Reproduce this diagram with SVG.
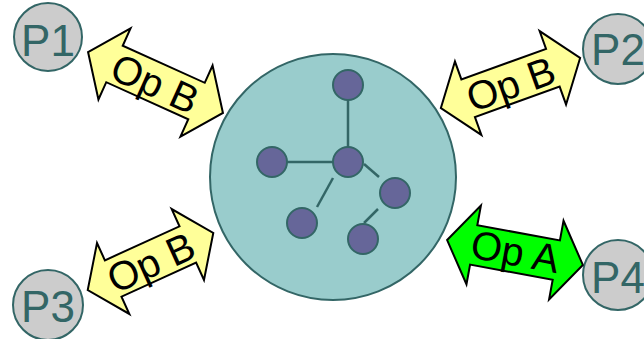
<svg xmlns="http://www.w3.org/2000/svg" width="644" height="339" viewBox="0 0 644 339">
  <style>
    .peer { fill: #cccccc; stroke: #336666; stroke-width: 2; }
    .peer-label { font-family: "Liberation Sans", Arial, sans-serif; font-size: 44px; fill: #336666; text-anchor: middle; }
    .op { stroke: #000000; stroke-width: 2; stroke-linejoin: miter; }
    .op-b { fill: #ffff99; }
    .op-a { fill: #00ff00; }
    .op-label { font-family: "Liberation Sans", Arial, sans-serif; font-size: 40px; fill: #000000; text-anchor: middle; }
    .cloud { fill: #99cccc; stroke: #336666; stroke-width: 2; }
    .member { fill: #666699; stroke: #336666; stroke-width: 2; }
    .link { stroke: #336666; stroke-width: 2.5; fill: none; }
  </style>

  <!-- central group with its members -->
  <g id="group">
    <circle class="cloud" cx="333" cy="177" r="123"/>
    <g id="links">
      <line class="link" x1="348" y1="100" x2="348" y2="147"/>
      <line class="link" x1="287" y1="162" x2="333" y2="162"/>
      <line class="link" x1="364" y1="164" x2="379" y2="177"/>
      <line class="link" x1="333" y1="178" x2="317" y2="207"/>
      <line class="link" x1="378" y1="209" x2="364" y2="223"/>
    </g>
    <circle id="m-top" class="member" cx="348" cy="85" r="15"/>
    <circle id="m-left" class="member" cx="272" cy="162" r="15"/>
    <circle id="m-center" class="member" cx="348" cy="162" r="15"/>
    <circle id="m-right" class="member" cx="395" cy="193" r="15"/>
    <circle id="m-lowleft" class="member" cx="302" cy="223" r="15"/>
    <circle id="m-low" class="member" cx="363" cy="239" r="15"/>
  </g>

  <!-- peers -->
  <g id="p1">
    <circle class="peer" cx="48" cy="37" r="34"/>
    <text class="peer-label" x="48" y="56">P1</text>
  </g>
  <g id="p2">
    <circle class="peer" cx="618" cy="49" r="35"/>
    <text class="peer-label" x="618" y="65">P2</text>
  </g>
  <g id="p3">
    <circle class="peer" cx="48" cy="305" r="35"/>
    <text class="peer-label" x="48" y="322">P3</text>
  </g>
  <g id="p4">
    <circle class="peer" cx="618" cy="275" r="35"/>
    <text class="peer-label" x="618" y="293">P4</text>
  </g>

  <!-- operation arrows (double-headed block arrows) -->
  <g id="connectors">
    <g id="op-p1" transform="translate(155.5 82.5) rotate(24.3)">
      <path class="op op-b" d="M -74 0 L -45 -39 L -45 -20 L 45 -20 L 45 -39 L 74 0 L 45 39 L 45 20 L -45 20 L -45 39 Z"/>
      <text class="op-label" x="0" y="15">Op B</text>
    </g>
    <g id="op-p2" transform="translate(510.5 83) rotate(-19.8)">
      <path class="op op-b" d="M -74 0 L -45 -39 L -45 -20 L 45 -20 L 45 -39 L 74 0 L 45 39 L 45 20 L -45 20 L -45 39 Z"/>
      <text class="op-label" x="0" y="15">Op B</text>
    </g>
    <g id="op-p3" transform="translate(150.5 261.5) rotate(-24.5)">
      <path class="op op-b" d="M -69 0 L -41 -39 L -41 -20 L 41 -20 L 41 -39 L 69 0 L 41 39 L 41 20 L -41 20 L -41 39 Z"/>
      <text class="op-label" x="0" y="15">Op B</text>
    </g>
    <g id="op-p4" transform="translate(515 252.5) rotate(10.4)">
      <path class="op op-a" d="M -69 0 L -42 -40 L -42 -20 L 42 -20 L 42 -40 L 69 0 L 42 40 L 42 20 L -42 20 L -42 40 Z"/>
      <text class="op-label" x="0" y="13">Op A</text>
    </g>
  </g>
</svg>
